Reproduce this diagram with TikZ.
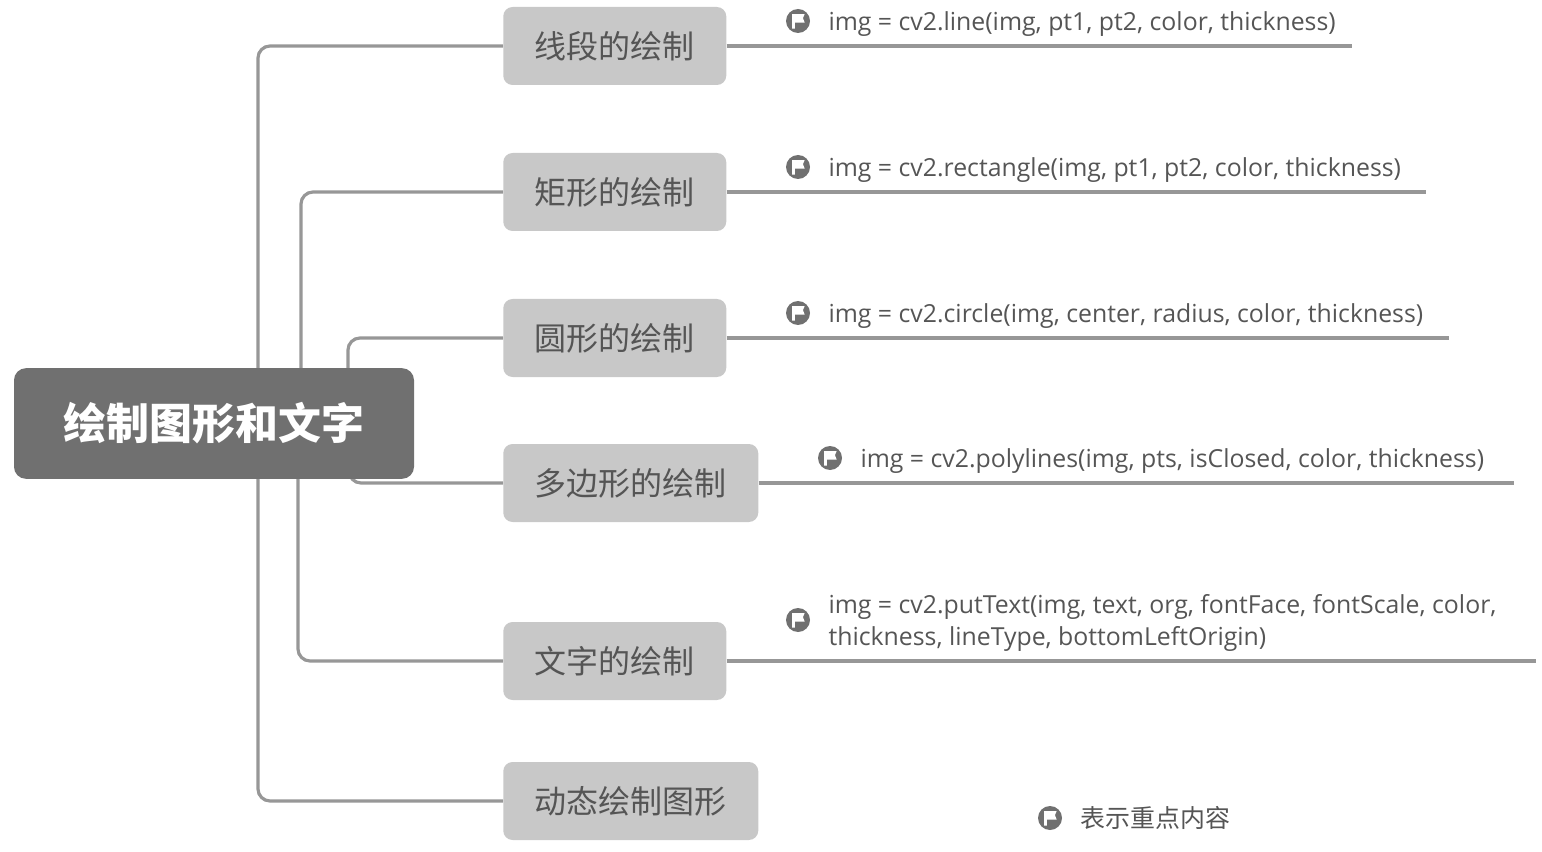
\documentclass[tikz,border=0pt]{standalone}
\usepackage{fontspec}
\setmainfont{Open Sans}
\newfontfamily\cjk{Noto Sans CJK SC}
\usetikzlibrary{positioning, backgrounds}
\definecolor{rootGray}{HTML}{707070}
\definecolor{topicGray}{HTML}{C8C8C8}
\definecolor{lineGray}{HTML}{979797}
\definecolor{textGray}{HTML}{555555}
\tikzset{
    % Shapes
    rootbox/.style={rectangle, fill=rootGray, rounded corners=9pt, text=white,
                 minimum width=300pt, minimum height=83pt, font=\cjk\bfseries\fontsize{32.2}{36}\selectfont},
    topic/.style={rectangle, fill=topicGray, rounded corners=7pt, text=textGray, anchor=west,
                 minimum width=167.25pt, minimum height=58.5pt, font=\cjk\fontsize{24}{28}\selectfont},
    topicWide/.style={topic, minimum width=191.25pt},
    flagicon/.style={circle, fill=rootGray, minimum size=18pt, inner sep=0pt,
                 path picture={
                    \fill[white] ([shift={(-4.4pt,5.2pt)}]path picture bounding box.center) -- ++(9.4pt,0)
                       -- ++(-1.3pt,-3pt) -- ++(1.3pt,-3.4pt) -- ++(-7.4pt,0) -- ++(0,-4.6pt) -- ++(-2pt,0) -- cycle;
                 }},
    code/.style={right=13.5pt of #1, yshift=-2.25pt, inner sep=0pt, text=textGray, align=left,
                 font=\fontsize{18.62}{24}\selectfont},
    % Flow
    branch/.style={line width=2.4pt, lineGray, rounded corners=9pt},
    stub/.style={line width=2.4pt, lineGray},
    under/.style={line width=3.2pt, lineGray}
}
\begin{document}
\begin{tikzpicture}[x=0.75pt, y=-0.75pt]
\useasboundingbox (0,0) rectangle (1542,852);

\node[rootbox] (root) at (214,423.5) {绘制图形和文字};

\node[topic] (t1) at (503,46) {线段的绘制};
\node[topic] (t2) at (503,192) {矩形的绘制};
\node[topic] (t3) at (503,338) {圆形的绘制};
\node[topicWide] (t4) at (503,483) {多边形的绘制};
\node[topic] (t5) at (503,661) {文字的绘制};
\node[topicWide] (t6) at (503,801) {动态绘制图形};

% Flags and code
\node[flagicon] (f1) at (798,21) {};
\node[code=f1] (c1) {img = cv2.line(img, pt1, pt2, color, thickness)};
\node[flagicon] (f2) at (798,167) {};
\node[code=f2] (c2) {img = cv2.rectangle(img, pt1, pt2, color, thickness)};
\node[flagicon] (f3) at (798,313) {};
\node[code=f3] (c3) {img = cv2.circle(img, center, radius, color, thickness)};
\node[flagicon] (f4) at (830,458) {};
\node[code=f4] (c4) {img = cv2.polylines(img, pts, isClosed, color, thickness)};
\node[flagicon] (f5) at (798,620) {};
\node[code=f5] (c5) {img = cv2.putText(img, text, org, fontFace, fontScale, color,\\thickness, lineType, bottomLeftOrigin)};
\node[flagicon] (f6) at (1050,818) {};
\node[code=f6, yshift=2.25pt, font=\cjk\fontsize{18.7}{24}\selectfont] (c6) {表示重点内容};

% Free ends
\coordinate (r1) at (258,375);
\coordinate (r2) at (301,375);
\coordinate (r3) at (348,375);
\coordinate (r4) at (349,470);
\coordinate (r5) at (298,470);
\coordinate (r6) at (258,470);
\coordinate (s1) at (772,46);
\coordinate (e1) at (1352,46);
\coordinate (s2) at (772,192);
\coordinate (e2) at (1426,192);
\coordinate (s3) at (772,338);
\coordinate (e3) at (1449,338);
\coordinate (s4) at (804,483);
\coordinate (e4) at (1514,483);
\coordinate (s5) at (772,661);
\coordinate (e5) at (1536,661);

\begin{scope}[on background layer]
\draw[branch] (r1) |- (t1.west);
\draw[branch] (r2) |- (t2.west);
\draw[branch] (r3) |- (t3.west);
\draw[branch] (r4) |- (t4.west);
\draw[branch] (r5) |- (t5.west);
\draw[branch] (r6) |- (t6.west);
\end{scope}

\draw[stub] (t1.east) -- (s1);
\draw[under] (s1) -- (e1);
\draw[stub] (t2.east) -- (s2);
\draw[under] (s2) -- (e2);
\draw[stub] (t3.east) -- (s3);
\draw[under] (s3) -- (e3);
\draw[stub] (t4.east) -- (s4);
\draw[under] (s4) -- (e4);
\draw[stub] (t5.east) -- (s5);
\draw[under] (s5) -- (e5);

\end{tikzpicture}
\end{document}
